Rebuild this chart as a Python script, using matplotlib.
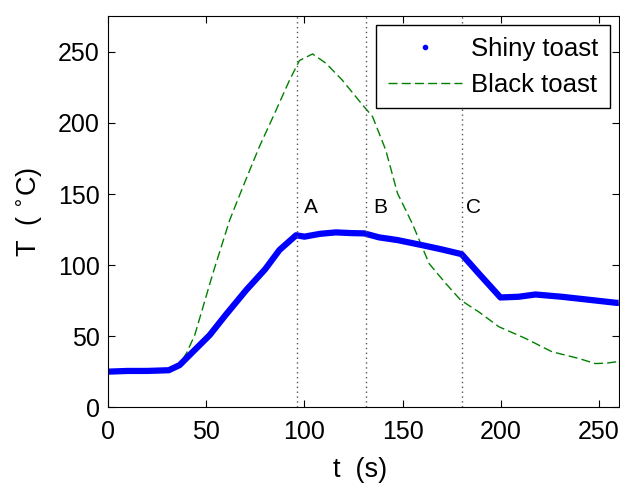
import numpy as np
import matplotlib.pyplot as plt
from matplotlib.lines import Line2D

plt.rcParams['font.family'] = ['Liberation Sans', 'DejaVu Sans']

# Shiny toast temperature
t_shiny = [0, 10, 20, 31, 36.5, 44, 51.8, 60, 70.4, 80, 87.3, 95.8, 100, 108, 116,
           124, 130.5, 138, 147.4, 160, 170, 180, 188.8, 199.8, 209, 217.6, 231,
           246, 259, 260]
T_shiny = [25, 25.5, 25.5, 26, 29.6, 40, 50.7, 65, 82.4, 97, 110.6, 121, 120, 122, 123,
           122.5, 122.3, 119.5, 117.6, 114, 111, 107.7, 94, 77.2, 77.7, 79.3, 77.7,
           75.4, 73.4, 73.5]

# Black toast temperature
t_black = [0, 10, 20, 30, 36, 40, 44.2, 53.4, 62, 68.7, 77, 85.6, 92.4, 97.5, 104.2,
           111, 119.4, 129.6, 134.7, 141.4, 147.4, 155, 163.5, 172, 179.5, 188.8,
           199, 212.5, 226, 239.6, 248, 254, 259, 260]
T_black = [25, 26, 26, 26.5, 29, 38, 50.7, 94, 131.7, 155, 183, 209, 230, 244, 248.6,
           242, 230, 212.7, 204.5, 181, 150.5, 129, 101, 87, 75.4, 67,
           56.6, 48.4, 39, 34.3, 30.7, 31, 32, 32]

# event markers
events = [96.5, 131.5, 180]
event_labels = ['A', 'B', 'C']
label_pos = [(103.3, 140.8), (138.4, 140.8), (186, 140.8)]

fig = plt.figure(figsize=(6.2, 4.83), dpi=100)
ax = fig.add_axes([0.174, 0.157, 0.824, 0.809])

ax.plot(t_black, T_black, color='#008000', linestyle=(0, (6.5, 3)), linewidth=1.0)
ax.plot(t_shiny, T_shiny, color='#0000ff', linewidth=4.5, solid_capstyle='butt')

for x in events:
    ax.axvline(x, color='#555555', linestyle=(0, (1, 2.5)), linewidth=1.0)
for lab, (x, y) in zip(event_labels, label_pos):
    ax.text(x, y, lab, fontsize=15, ha='center', va='center')

ax.set_xlim(0, 260)
ax.set_ylim(0, 275)
ax.set_xticks([0, 50, 100, 150, 200, 250])
ax.set_yticks([0, 50, 100, 150, 200, 250])
ax.tick_params(direction='in', top=True, right=True, labelsize=18, length=5)
ax.tick_params(axis='x', pad=9)
ax.tick_params(axis='y', pad=6)
ax.set_xlabel('t  (s)', fontsize=19.5)
ax.set_ylabel('T  ( $^{\\circ}$C)', fontsize=19.5)
ax.xaxis.set_label_coords(0.494, -0.161)
ax.xaxis.label.set_va('center')
ax.yaxis.set_label_coords(-0.155, 0.5)
ax.yaxis.label.set_va('center')

handles = [Line2D([], [], color='#0000ff', marker='.', linestyle='none', markersize=6),
           Line2D([], [], color='#008000', linestyle=(0, (6.5, 3)), linewidth=1.0)]
leg = ax.legend(handles, ['Shiny toast', 'Black toast'], loc='upper right',
                bbox_to_anchor=(0.983, 0.977), borderaxespad=0, fontsize=18.5,
                fancybox=False, framealpha=1, edgecolor='black', handlelength=2.9,
                handletextpad=0.35, borderpad=0.45, labelspacing=0.45)
leg.get_frame().set_linewidth(1.0)

fig.savefig('out.png', dpi=100)
